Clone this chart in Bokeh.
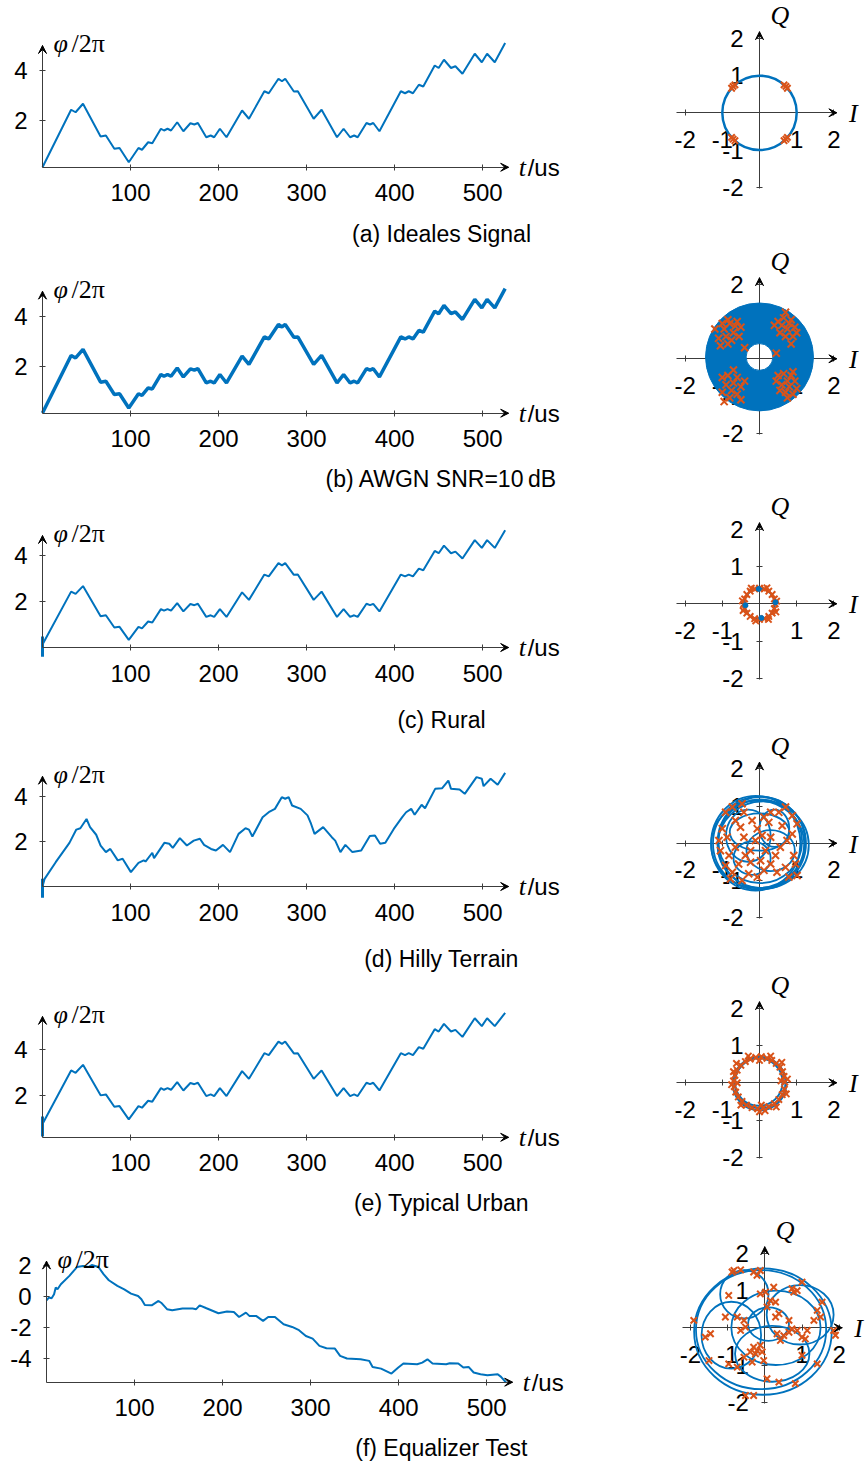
from bokeh.plotting import figure
from bokeh.layouts import column, row
from bokeh.models import Arrow, VeeHead, Label, FixedTicker, Range1d, CustomJSTickFormatter
from bokeh.embed import file_html
from bokeh.resources import INLINE

# ---------------- data ----------------
X_TICKS = [100, 200, 300, 400, 500]
IQ_TICKS = [-2, -1, 1, 2]
CAPTIONS = ["(a) Ideales Signal", "(b) AWGN SNR=10\u2009dB", "(c) Rural",
            "(d) Hilly Terrain", "(e) Typical Urban", "(f) Equalizer Test"]

t_ideal = [0, 32.5, 37.6, 46, 66, 72, 81.6, 87.5, 98, 109, 113, 120, 124.7, 134.5, 138, 142, 146, 153, 160, 168,
           172.5, 176.5, 186, 191, 195, 201.5, 209, 226.7, 234.5, 252, 257, 268, 272, 275.7, 285.5, 290, 308, 317,
           334.5, 342, 349.4, 354, 358, 368, 372, 375.7, 382.7, 407, 411.8, 416, 420.8, 427.5, 432.5, 445.5, 450,
           456, 464, 469, 477, 491, 499, 505, 513.7, 525.5]
phi_ideal = [0.13, 2.43, 2.33, 2.67, 1.36, 1.4, 0.87, 0.9, 0.33, 0.9, 0.83, 1.13, 1.09, 1.67, 1.6, 1.67, 1.6, 1.93,
             1.57, 1.89, 1.84, 1.9, 1.33, 1.4, 1.33, 1.67, 1.33, 2.4, 2.07, 3.17, 3.09, 3.67, 3.57, 3.67, 3.16, 3.17,
             2.07, 2.43, 1.33, 1.67, 1.33, 1.4, 1.33, 1.9, 1.84, 1.9, 1.57, 3.17, 3.09, 3.17, 3.09, 3.43, 3.36, 4.2,
             4.1, 4.43, 4.1, 4.17, 3.87, 4.67, 4.33, 4.67, 4.33, 5.1]
phi_awgn = phi_ideal
phi_rural = phi_ideal
phi_urban = [0.78, 3.08, 2.98, 3.32, 2.01, 2.05, 1.52, 1.55, 0.98, 1.55, 1.48, 1.78, 1.74, 2.32, 2.25, 2.32, 2.25,
             2.58, 2.22, 2.54, 2.49, 2.55, 1.98, 2.05, 1.98, 2.32, 1.98, 3.05, 2.72, 3.82, 3.74, 4.32, 4.22, 4.32,
             3.81, 3.82, 2.72, 3.08, 1.98, 2.32, 1.98, 2.05, 1.98, 2.55, 2.49, 2.55, 2.22, 3.82, 3.74, 3.82, 3.74,
             4.08, 4.01, 4.85, 4.75, 5.08, 4.75, 4.82, 4.52, 5.32, 4.98, 5.32, 4.98, 5.55]

t_hilly = [0, 2.4, 15, 30.6, 38.4, 43, 50, 54, 61, 66, 72, 77, 85.5, 91, 100.4, 109, 115, 117, 124.7, 126.7,
           138.4, 144, 148, 156, 164, 171.8, 178.8, 183.5, 191.4, 197, 205, 213, 222.7, 230.6, 234.5, 238.4, 250,
           258, 264, 271.8, 275.7, 279.6, 283.5, 293.3, 301, 305, 309, 318.8, 328.6, 332.5, 338.4, 344, 352, 362,
           371.8, 377.6, 383.5, 389.4, 399, 408.6, 413, 418.8, 422.7, 430.6, 434.5, 446, 454, 461, 464, 473.7,
           479.6, 493, 499, 501, 509, 517, 525.5]
phi_hilly = [0.0, 0.34, 1.08, 1.94, 2.53, 2.59, 3.0, 2.64, 2.3, 1.82, 1.53, 1.67, 1.16, 1.23, 0.64, 1.05, 1.16,
             1.11, 1.5, 1.26, 1.94, 1.9, 1.72, 2.15, 1.82, 2.04, 2.12, 1.85, 1.67, 1.6, 1.85, 1.53, 2.34, 2.59, 2.53,
             2.22, 3.08, 3.33, 3.45, 3.97, 3.9, 3.97, 3.6, 3.45, 3.16, 2.79, 2.34, 2.64, 2.19, 2.04, 1.53, 1.85,
             1.53, 1.6, 2.24, 2.27, 1.9, 1.94, 2.56, 3.08, 3.3, 3.45, 3.19, 3.63, 3.48, 4.34, 4.37, 4.71, 4.34,
             4.31, 4.12, 4.86, 4.79, 4.46, 4.79, 4.52, 5.05]

t_eq = [0, 2.7, 5.8, 8.6, 10.5, 12.5, 16.3, 26, 34.6, 41.6, 47.5, 51.4, 59, 65, 70.8, 80.5, 88.3, 96, 104, 107.8,
        111.7, 119.5, 127.2, 131, 136.9, 142.8, 154.5, 166, 170, 174, 181.7, 195.3, 205, 212.8, 218.7, 226.5,
        230.4, 238, 246, 251.8, 259.5, 269.3, 279, 286.8, 294.6, 302.3, 310, 318, 327.6, 333.5, 341.3, 356.8,
        366.5, 370.4, 380, 391.8, 399.6, 405.4, 421, 426.8, 432.7, 438.5, 454, 458, 467.7, 473.5, 479.4, 485.2,
        493, 500.8, 512.5, 516.3, 522]
phi_eq = [-0.24, -0.06, -0.11, 0.15, 0.58, 0.47, 0.79, 1.33, 1.9, 1.97, 1.9, 2.03, 1.9, 1.43, 1.05, 0.69, 0.47,
          0.19, 0.04, -0.17, -0.54, -0.56, -0.28, -0.43, -0.81, -0.88, -0.77, -0.77, -0.81, -0.56, -0.75, -1.07,
          -0.96, -0.99, -1.31, -1.03, -1.24, -1.24, -1.56, -1.31, -1.31, -1.78, -1.95, -2.16, -2.53, -2.7, -3.17,
          -3.32, -3.34, -3.81, -3.98, -4.03, -4.13, -4.52, -4.63, -4.95, -4.56, -4.3, -4.35, -4.24, -4.03, -4.3,
          -4.35, -4.28, -4.3, -4.56, -4.52, -4.88, -4.99, -5.05, -4.99, -5.16, -5.52]

# start-up transients at t = 0
t_bar = [0, 0]
bar_rural = [-0.4, 0.48]
bar_hilly = [-0.5, 0.35]
bar_urban = [0.25, 1.1]

# constellations
sym_ideal_i = [0.66, 0.71, 0.75, -0.66, -0.71, -0.75, -0.66, -0.71, -0.75, 0.66, 0.71, 0.75]
sym_ideal_q = [0.75, 0.71, 0.66, 0.75, 0.71, 0.66, -0.75, -0.71, -0.66, -0.75, -0.71, -0.66]

sym_awgn_i = [-1.0, -0.85, -0.6, -0.5, -0.7, -0.9, -1.1, -0.75, -0.55, -1.2, -0.95, -0.65, -0.8, -0.4, -1.05, -0.85,
              0.5, 0.65, 0.85, 0.95, 0.75, 0.55, 0.7, 0.9, 0.4, 1.0, 0.8, 0.6, 0.45, 0.7, 0.85,
              -1.0, -0.85, -0.6, -0.7, -0.9, -0.5, -0.75, -1.0, -0.6, -0.8, -0.4, -0.95, -0.7, -0.5,
              0.5, 0.65, 0.85, 0.95, 0.75, 0.6, 0.8, 1.0, 0.7, 0.55, 0.9, 0.45, 0.75, 0.9]
sym_awgn_q = [0.95, 1.05, 1.0, 0.85, 0.7, 0.6, 0.55, 0.5, 0.6, 0.8, 0.8, 0.88, 0.95, 0.3, 0.35, 0.4,
              1.0, 1.1, 1.05, 0.85, 0.8, 0.7, 0.6, 0.6, 0.9, 0.7, 0.95, 0.9, 0.15, 1.25, 0.4,
              -0.5, -0.45, -0.5, -0.65, -0.7, -0.75, -0.85, -0.9, -0.95, -1.05, -0.6, -1.15, -0.3, -1.1,
              -0.45, -0.4, -0.45, -0.6, -0.6, -0.7, -0.75, -0.8, -0.9, -0.85, -0.95, -0.6, -1.05, -0.35]

sym_rural_i = [0.42, 0.40, 0.34, 0.25, 0.13, 0.0, -0.13, -0.25, -0.34, -0.40, -0.42, -0.40, -0.34, -0.25, -0.13,
               0.0, 0.13, 0.25, 0.34, 0.40, 0.46, 0.2, -0.22, -0.46, -0.44, -0.1, 0.24, 0.44]
sym_rural_q = [0.0, 0.13, 0.25, 0.34, 0.40, 0.42, 0.40, 0.34, 0.25, 0.13, 0.0, -0.13, -0.25, -0.34, -0.40,
               -0.42, -0.40, -0.34, -0.25, -0.13, 0.07, 0.43, 0.42, 0.08, -0.18, -0.46, -0.42, -0.22]
dot_rural_i = [-0.02, 0.43, -0.38, 0.05]
dot_rural_q = [0.40, 0.04, -0.04, -0.38]

sym_hilly_i = [-0.91, -0.73, -0.47, -0.42, -0.65, -1.0, -0.87, -1.05, -0.82, -0.91, -0.73, -0.56, -0.38, -0.24,
               -0.11, 0.07, -0.06, -0.2, 0.12, 0.3, 0.25, 0.52, 0.7, 0.88, 1.01, 0.88, 0.74, 0.56, 0.43, 0.3, 0.12,
               0.47, 0.7, 0.92, 0.97, 1.01, 0.79, -0.06, -0.29, -0.47, -0.78, -0.65, -0.42, 0.3, 0.16, -0.24, -1.09,
               -0.51, 0.61, 0.03]
sym_hilly_q = [0.83, 0.97, 1.06, 0.83, 0.61, 0.39, 0.16, -0.2, -0.33, -0.6, -0.78, -0.56, -0.33, -0.2, 0.07,
               0.21, 0.39, 0.61, 0.7, 0.83, 0.56, 0.83, 0.97, 0.74, 0.52, 0.25, 0.07, -0.11, -0.33, -0.56, -0.73,
               -0.78, -0.65, -0.33, -0.56, -0.87, -0.91, -0.91, -0.82, -1.0, -0.96, -0.11, 0.16, 0.16, -0.2, -0.51,
               0.07, 0.43, 0.47, -0.47]
loop_hilly_i = [0, 0.05, -0.05, 0.02, -0.1, 0.1, -0.3, 0.3, 0.0, -0.2, 0.4]
loop_hilly_q = [0, 0.02, -0.03, 0.05, 0.0, -0.05, 0.2, -0.2, 0.3, -0.4, 0.4]
loop_hilly_w = [2.5, 2.35, 2.5, 2.25, 2.4, 2.45, 1.2, 1.3, 1.6, 1.0, 0.8]
loop_hilly_h = [2.5, 2.45, 2.35, 2.25, 2.55, 2.35, 1.4, 1.1, 1.0, 0.9, 1.0]

sym_urban_i = [0.68, 0.66, 0.62, 0.55, 0.45, 0.33, 0.2, 0.05, -0.1, -0.25, -0.38, -0.5, -0.6, -0.66, -0.7, -0.68,
               -0.64, -0.57, -0.47, -0.35, -0.2, -0.05, 0.1, 0.25, 0.4, 0.52, 0.61, 0.67, 0.75, 0.72, -0.75, -0.7,
               0.3, -0.3, 0.0, 0.45, -0.5, 0.6, -0.62, 0.15, 0.58, -0.6, 0.0, 0.05]
sym_urban_q = [0.02, 0.17, 0.3, 0.42, 0.52, 0.6, 0.66, 0.7, 0.68, 0.64, 0.57, 0.47, 0.34, 0.2, 0.05, -0.1, -0.25,
               -0.38, -0.5, -0.6, -0.67, -0.7, -0.68, -0.64, -0.56, -0.45, -0.32, -0.17, 0.1, -0.3, -0.05, 0.3,
               0.72, 0.72, -0.78, -0.65, -0.6, 0.55, 0.52, -0.75, 0.05, 0.0, 0.6, -0.6]
loop_urban_i = [0.02, -0.02, 0.0]
loop_urban_q = [0.0, 0.02, -0.02]
loop_urban_d = [1.36, 1.28, 1.44]

sym_eq_i = [-0.83, -0.65, -0.88, -0.30, -0.21, -0.12, -0.97, -0.12, 0.02, 0.15, 0.29, 0.06, 0.24, 0.73, 0.87, 1.0,
            0.78, 1.54, 1.41, 1.5, 1.32, 1.85, 1.9, 1.09, 1.0, 1.41, 0.82, 0.38, 0.06, -0.3, -0.52, -0.97, -0.74,
            -1.5, -1.6, -1.91, -1.46, -1.06, -0.74, -0.56, -0.52, -0.65, -0.3, -0.21, -0.12, -0.39, -0.25, -0.07,
            0.33, 0.51, 0.65, 0.42, 0.73, 0.87, 0.29, 0.38, 0.65, -0.56, -0.34, -0.03, 1.0, 1.14]
sym_eq_q = [1.54, 1.56, 1.5, 1.5, 1.41, 1.54, 0.87, 0.91, 0.96, 0.73, 0.69, 0.56, 1.09, 1.05, 1.0, 1.23, 0.96,
            0.69, 0.47, 0.29, 0.2, -0.07, -0.2, -0.3, -0.74, -0.97, -1.5, -1.46, -1.37, -1.82, -1.82, -0.97, -1.06,
            -0.88, -0.25, 0.2, -0.16, 0.29, 0.29, 0.2, 0.02, -0.07, -0.52, -0.61, -0.47, -0.65, -0.7, -0.65, -0.16,
            -0.21, -0.12, -0.34, -0.03, -0.07, 0.29, 0.38, 0.2, -0.79, -0.92, -0.88, -0.25, -0.07]
loop_eq_i = [-0.05, -0.1, -0.55, 0.95, 0.2, -0.9, 0.1, 0.3]
loop_eq_q = [-0.1, -0.05, 0.9, 0.35, -0.7, -0.2, 0.1, 0.0]
loop_eq_w = [3.7, 3.5, 1.3, 1.8, 2.0, 1.6, 1.1, 2.4]
loop_eq_h = [3.4, 3.2, 1.3, 1.6, 1.5, 1.8, 0.9, 2.0]

# ---------------- style ----------------
BLUE = "#0072BD"
ORANGE = "#D95319"
AXC = "#3c3c3c"
SANS = "Liberation Sans"
SERIF = "Liberation Serif"
LW, RW = 600, 266
KX = 0.8804      # px per us
KIQ = 37.2       # px per unit in constellations
X_END = 529.5
PLAIN = CustomJSTickFormatter(code="return tick.toString();")


def style_axis(ax, standoff):
    ax.axis_line_color = AXC
    ax.axis_line_width = 1
    ax.major_tick_line_color = AXC
    ax.major_tick_in = 3
    ax.major_tick_out = 3
    ax.minor_tick_line_color = None
    ax.major_label_text_font = SANS
    ax.major_label_text_font_size = "24px"
    ax.major_label_text_color = "black"
    ax.major_label_standoff = standoff
    ax.formatter = PLAIN


def head(p, x0, y0, x1, y1):
    p.add_layout(Arrow(end=VeeHead(size=8, fill_color="black", line_color="black", line_width=1),
                       x_start=x0, y_start=y0, x_end=x1, y_end=y1, line_alpha=0))


def lab(p, x, y, text, font, size, style="normal", xo=0, yo=0, align="left"):
    p.add_layout(Label(x=x, y=y, x_offset=xo, y_offset=yo, text=text, text_font=font,
                       text_font_size=size, text_font_style=style, text_align=align,
                       text_baseline="middle", text_color="black"))


def bare(width, height, xr, yr):
    p = figure(width=width, height=height, x_range=Range1d(*xr), y_range=Range1d(*yr),
               output_backend="svg", toolbar_location=None, min_border=0)
    p.grid.visible = False
    p.outline_line_color = None
    return p


def left_panel(H, x0px, y0px, s, ymin, yarrow, yticks, caption, cap_dy):
    p = bare(LW, H, (-x0px / KX, (LW - x0px) / KX), ((y0px - H) / s, y0px / s))
    p.xaxis.fixed_location = ymin
    p.yaxis.fixed_location = 0
    p.xaxis.ticker = FixedTicker(ticks=X_TICKS)
    p.yaxis.ticker = FixedTicker(ticks=yticks)
    style_axis(p.xaxis[0], 14)
    style_axis(p.yaxis[0], 12)
    p.xaxis.bounds = (0, X_END)
    p.yaxis.bounds = (ymin, yarrow)
    head(p, X_END - 10, ymin, X_END, ymin)
    head(p, 0, yarrow - 0.4, 0, yarrow)
    lab(p, 0, yarrow, "φ", SERIF, "26px", "italic", xo=11, yo=2)
    lab(p, 0, yarrow, "/2π", SERIF, "26px", xo=29, yo=2)
    lab(p, X_END, ymin, "t", SERIF, "26px", "italic", xo=10)
    lab(p, X_END, ymin, "/us", SANS, "24px", xo=19)
    lab(p, (441 - x0px) / KX, ymin, caption, SANS, "23px", yo=-cap_dy, align="center")
    return p


def right_panel(H, cx, cy):
    p = bare(RW, H, (-cx / KIQ, (RW - cx) / KIQ), (-(H - cy) / KIQ, cy / KIQ))
    p.xaxis.fixed_location = 0
    p.yaxis.fixed_location = 0
    p.xaxis.ticker = FixedTicker(ticks=IQ_TICKS)
    p.yaxis.ticker = FixedTicker(ticks=IQ_TICKS)
    style_axis(p.xaxis[0], 15)
    style_axis(p.yaxis[0], 13)
    p.xaxis[0].level = "underlay"
    p.yaxis[0].level = "underlay"
    p.xaxis.bounds = (-2.22, 2.08)
    p.yaxis.bounds = (-2.03, 2.18)
    head(p, 1.8, 0, 2.08, 0)
    head(p, 0, 1.9, 0, 2.18)
    lab(p, 0, 2.18, "Q", SERIF, "26px", "italic", xo=11, yo=16)
    lab(p, 2.08, 0, "I", SERIF, "26px", "italic", xo=12, yo=-1)
    return p


# ---------------- left column: phase panels ----------------
pa = left_panel(250, 42, 170, 25, 0.13, 5.0, [2, 4], CAPTIONS[0], 67)
pa.line(t_ideal, phi_ideal, line_color=BLUE, line_width=2)

pb = left_panel(245, 42, 165.7, 25, 0.12, 5.0, [2, 4], CAPTIONS[1], 66)
pb.line(t_ideal, phi_awgn, line_color=BLUE, line_width=3.5)

pc = left_panel(239, 42, 152, 23, 0.0, 4.87, [2, 4], CAPTIONS[2], 72)
pc.line(t_ideal, phi_rural, line_color=BLUE, line_width=2)
pc.line(t_bar, bar_rural, line_color=BLUE, line_width=3)

pd = left_panel(239, 42, 152, 22.5, 0.0, 4.9, [2, 4], CAPTIONS[3], 72)
pd.line(t_hilly, phi_hilly, line_color=BLUE, line_width=2)
pd.line(t_bar, bar_hilly, line_color=BLUE, line_width=3)

pe = left_panel(246, 42, 168.7, 23.3, 0.21, 5.4, [2, 4], CAPTIONS[4], 66)
pe.line(t_ideal, phi_urban, line_color=BLUE, line_width=2)
pe.line(t_bar, bar_urban, line_color=BLUE, line_width=3)

pf = left_panel(242, 46, 77.1, 15.56, -5.5, 2.28, [-4, -2, 0, 2], CAPTIONS[5], 66)
pf.line(t_eq, phi_eq, line_color=BLUE, line_width=2)

# ---------------- right column: constellations ----------------
qa = right_panel(233, 159, 112.3)
qa.ellipse(x=[0], y=[0], width=[2.0], height=[2.0], fill_color=None, line_color=BLUE, line_width=2.5)
qa.scatter(sym_ideal_i, sym_ideal_q, marker="x", size=9, line_color=ORANGE, line_width=2)

qb = right_panel(245, 159, 125.3)
qb.annulus(x=[0.0], y=[0.05], inner_radius=[0.36], outer_radius=[1.45], fill_color=BLUE, line_color=BLUE)
qb.scatter(sym_awgn_i, sym_awgn_q, marker="x", size=10, line_color=ORANGE, line_width=2)

qc = right_panel(240, 159, 125.3)
qc.ellipse(x=[0], y=[0], width=[0.82], height=[0.82], fill_color=None, line_color=BLUE, line_width=2)
qc.scatter(sym_rural_i, sym_rural_q, marker="x", size=9, line_color=ORANGE, line_width=2)
qc.scatter(dot_rural_i, dot_rural_q, marker="circle", size=5, fill_color=BLUE, line_color=BLUE)

qd = right_panel(239, 159, 124.7)
qd.ellipse(x=loop_hilly_i, y=loop_hilly_q, width=loop_hilly_w, height=loop_hilly_h, fill_color=None,
           line_color=BLUE, line_width=1.8)
qd.scatter(sym_hilly_i, sym_hilly_q, marker="x", size=10, line_color=ORANGE, line_width=2)

qe = right_panel(245, 159, 125.3)
qe.ellipse(x=loop_urban_i, y=loop_urban_q, width=loop_urban_d, height=loop_urban_d, fill_color=None,
           line_color=BLUE, line_width=2)
qe.scatter(sym_urban_i, sym_urban_q, marker="x", size=9, line_color=ORANGE, line_width=2)

qf = right_panel(259, 164.3, 125.3)
qf.ellipse(x=loop_eq_i, y=loop_eq_q, width=loop_eq_w, height=loop_eq_h, fill_color=None,
           line_color=BLUE, line_width=1.8)
qf.scatter(sym_eq_i, sym_eq_q, marker="x", size=9, line_color=ORANGE, line_width=2)

layout = row(column(pa, pb, pc, pd, pe, pf), column(qa, qb, qc, qd, qe, qf))
open("out.html", "w").write(file_html(layout, INLINE))
